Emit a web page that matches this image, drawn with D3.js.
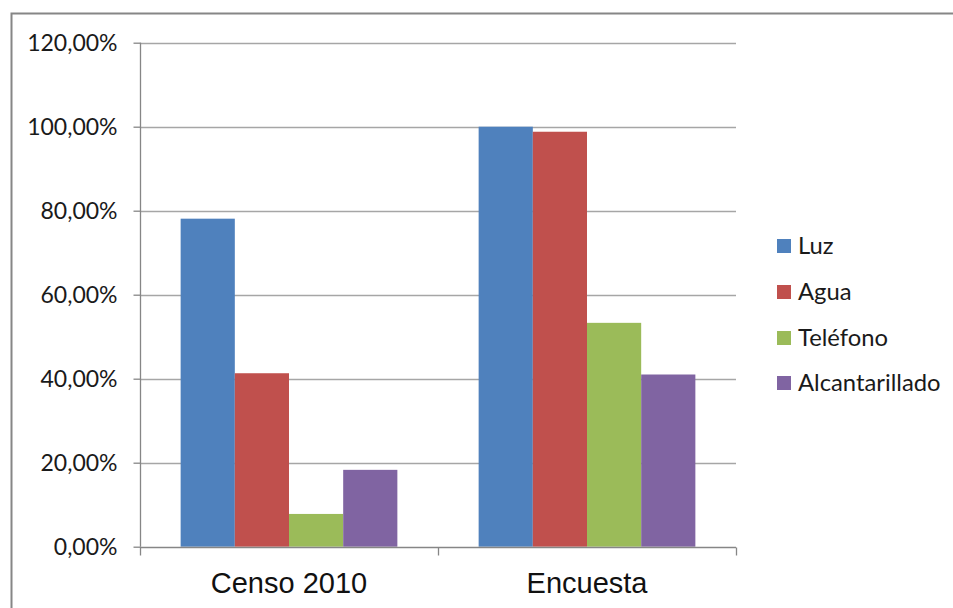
<!DOCTYPE html>
<html>
<head>
<meta charset="utf-8">
<script src="https://cdn.jsdelivr.net/npm/d3@7"></script>
<style>
  html, body { margin: 0; padding: 0; background: #fff; }
  svg { display: block; }
</style>
</head>
<body>
<svg id="chart" width="953" height="608"></svg>
<script>
const categories = ["Censo 2010", "Encuesta"];
const seriesNames = ["Luz", "Agua", "Teléfono", "Alcantarillado"];
const seriesColors = ["#4F81BD", "#C0504D", "#9BBB59", "#8064A2"];
const luzValues = [78.1, 100.0];
const aguaValues = [41.3, 98.8];
const telefonoValues = [7.8, 53.3];
const alcantarilladoValues = [18.3, 41.0];
const yTicks = [0, 20, 40, 60, 80, 100, 120];

const seriesValues = [luzValues, aguaValues, telefonoValues, alcantarilladoValues];

const svg = d3.select("#chart");

// outer chart border (cropped on right/bottom)
svg.append("path")
  .attr("d", "M11.5,608 L11.5,13.5 L953,13.5")
  .attr("fill", "none").attr("stroke", "#868686").attr("stroke-width", 2);

const plot = { left: 140, right: 736, top: 42.7, bottom: 546.7 };

const y = d3.scaleLinear().domain([0, 120]).range([plot.bottom, plot.top]);
const x0 = d3.scaleBand().domain(categories).range([plot.left, plot.right]).padding(0);
const x1 = d3.scaleBand().domain(seriesNames).range([0, x0.bandwidth()])
  .paddingInner(0).paddingOuter(0.75);

// gridlines
svg.append("g").selectAll("line").data(yTicks.filter(d => d > 0)).join("line")
  .attr("x1", plot.left).attr("x2", plot.right)
  .attr("y1", d => Math.round(y(d)) + 0.5).attr("y2", d => Math.round(y(d)) + 0.5)
  .attr("stroke", "#A6A6A6").attr("stroke-width", 1.3);

// bars
const groups = svg.append("g").selectAll("g").data(categories).join("g")
  .attr("transform", c => `translate(${x0(c)},0)`);
groups.selectAll("rect")
  .data((c, ci) => seriesNames.map((s, si) => ({ s, si, v: seriesValues[si][ci] })))
  .join("rect")
  .attr("x", d => x1(d.s))
  .attr("width", x1.bandwidth())
  .attr("y", d => y(d.v))
  .attr("height", d => y(0) - y(d.v))
  .attr("fill", d => seriesColors[d.si]);

// y axis
const yAxis = d3.axisLeft(y).tickValues(yTicks).tickSize(7).tickPadding(16)
  .tickFormat(d => d3.format(".2f")(d).replace(".", ",") + "%");
const gy = svg.append("g").attr("transform", `translate(${plot.left + 0.5},0)`).call(yAxis);
gy.select(".domain").attr("stroke", "#868686").attr("stroke-width", 1.3)
  .attr("d", `M0,${plot.top}V${plot.bottom}`);
gy.selectAll(".tick line").attr("stroke", "#868686").attr("stroke-width", 1.3);
gy.selectAll(".tick text").attr("fill", "#1a1a1a")
  .style("font-family", "Lato, 'Open Sans', sans-serif").style("font-size", "23px")
  .attr("dy", "0.35em");

// x axis
const xAxis = d3.axisBottom(x0).tickSize(0).tickPadding(0);
const gx = svg.append("g").attr("transform", `translate(0,${Math.round(plot.bottom) + 0.5})`).call(xAxis);
gx.select(".domain").attr("stroke", "#868686").attr("stroke-width", 1.3)
  .attr("d", `M${plot.left},0H${plot.right}`);
gx.selectAll(".tick text").attr("fill", "#111")
  .style("font-family", "'Liberation Sans', Arial, sans-serif").style("font-size", "29px")
  .attr("y", 45).attr("dy", 0);
// category separator ticks
const sepX = [plot.left, x0(categories[1]), plot.right];
gx.append("g").selectAll("line").data(sepX).join("line")
  .attr("x1", d => Math.round(d) + 0.5).attr("x2", d => Math.round(d) + 0.5)
  .attr("y1", 0).attr("y2", 8)
  .attr("stroke", "#868686").attr("stroke-width", 1.3);

// legend
const legend = svg.append("g").attr("transform", "translate(777,0)");
const legY = [246, 292, 338, 383];
const li = legend.selectAll("g").data(seriesNames).join("g")
  .attr("transform", (d, i) => `translate(0,${legY[i]})`);
li.append("rect").attr("x", 0).attr("y", -7).attr("width", 14).attr("height", 14)
  .attr("fill", (d, i) => seriesColors[i]);
li.append("text").attr("x", 21).attr("dy", "0.35em").text(d => d)
  .attr("fill", "#1a1a1a")
  .style("font-family", "Lato, 'Open Sans', sans-serif").style("font-size", "23.8px");
</script>
</body>
</html>
